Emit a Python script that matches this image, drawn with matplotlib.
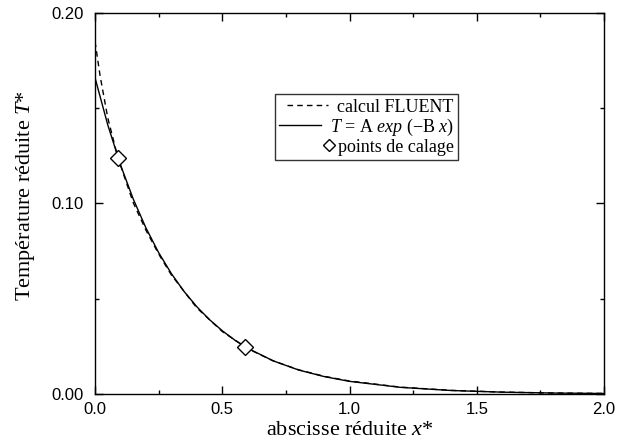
import numpy as np
import matplotlib
matplotlib.use("Agg")
import matplotlib.pyplot as plt
from matplotlib.ticker import MultipleLocator, FormatStrFormatter
from matplotlib.legend_handler import HandlerLine2D

plt.rcParams['mathtext.fontset'] = 'custom'
plt.rcParams['mathtext.rm'] = 'Liberation Serif'
plt.rcParams['mathtext.it'] = 'Liberation Serif:italic'

# calcul FLUENT (dashed)
x_fluent = [0.0, 0.02, 0.05, 0.09, 0.15, 0.2, 0.25, 0.3, 0.4, 0.5, 0.6,
            0.7, 0.8, 0.9, 1.0, 1.2, 1.4, 1.6, 1.8, 2.0]
t_fluent = [0.185, 0.167, 0.145, 0.124, 0.1005, 0.0860, 0.0735, 0.0625,
            0.0452, 0.0328, 0.0238, 0.0174, 0.0127, 0.0093, 0.0068, 0.0036,
            0.0019, 0.0010, 0.0005, 0.0003]

# T = A exp(-B x) (solid)
x_fit = [0.0, 0.05, 0.1, 0.15, 0.2, 0.25, 0.3, 0.35, 0.4, 0.45, 0.5, 0.55,
         0.6, 0.7, 0.8, 0.9, 1.0, 1.2, 1.4, 1.6, 1.8, 2.0]
t_fit = [0.166, 0.1413, 0.1203, 0.1024, 0.0872, 0.0742, 0.0632, 0.0538,
         0.0458, 0.0390, 0.0332, 0.0282, 0.0240, 0.0174, 0.0126, 0.00915,
         0.00663, 0.00349, 0.00183, 0.00096, 0.000505, 0.000265]

# points de calage
x_cal = [0.09, 0.59]
t_cal = [0.124, 0.0247]


class RightMarker(HandlerLine2D):
    # put the symbol at the right end of the handle, next to the text
    def get_xdata(self, legend, xdescent, ydescent, width, height, fontsize):
        xm = -xdescent + width + 0.02 * fontsize
        return np.array([xm, xm]), np.array([xm])


fig = plt.figure(figsize=(6.17, 4.46), dpi=100)
ax = fig.add_axes([0.154, 0.1166, 0.825, 0.8543])

ax.plot(x_fluent, t_fluent, color='black', lw=1.0, ls=(0, (4, 3)),
        label='calcul FLUENT')
ax.plot(x_fit, t_fit, color='black', lw=1.0,
        label=r'$T$ = A $exp$ ($-$B $x$)')
cal, = ax.plot(x_cal, t_cal, ls='none', marker='D', ms=8, mfc='white',
               mec='black', mew=1.0, label='points de calage')

ax.set_xlim(0, 2)
ax.set_ylim(0, 0.2)
ax.xaxis.set_major_locator(MultipleLocator(0.5))
ax.xaxis.set_minor_locator(MultipleLocator(0.25))
ax.yaxis.set_major_locator(MultipleLocator(0.1))
ax.yaxis.set_minor_locator(MultipleLocator(0.05))
ax.xaxis.set_major_formatter(FormatStrFormatter('%.1f'))
ax.yaxis.set_major_formatter(FormatStrFormatter('%.2f'))
ax.tick_params(which='both', direction='in', top=True, right=True,
               labelsize=12)
ax.tick_params(axis='x', pad=6)
ax.tick_params(axis='y', pad=8)
ax.tick_params(which='major', length=6, width=1)
ax.tick_params(which='minor', length=3, width=1)
for lab in ax.get_xticklabels() + ax.get_yticklabels():
    lab.set_family('Liberation Sans')
for sp in ax.spines.values():
    sp.set_linewidth(1.0)

ax.set_xlabel('abscisse réduite $x$*', family='Liberation Serif',
              fontsize=16, labelpad=3)
ax.set_ylabel('Température réduite $T$*', family='Liberation Serif',
              fontsize=16)
ax.yaxis.set_label_coords(-0.113, 0.52)

leg = ax.legend(loc='upper left', bbox_to_anchor=(0.353, 0.787),
                prop={'family': 'Liberation Serif', 'size': 13},
                frameon=True, fancybox=False, edgecolor='black',
                handlelength=2.3, handletextpad=0.5, borderpad=0.25,
                borderaxespad=0, labelspacing=0.05, markerscale=0.75,
                handler_map={cal: RightMarker()})
leg.get_frame().set_linewidth(1.0)
# right-align the rows so the labels end at the same x
leg._legend_handle_box.get_children()[0].align = 'right'

fig.savefig('out.png', dpi=100)
